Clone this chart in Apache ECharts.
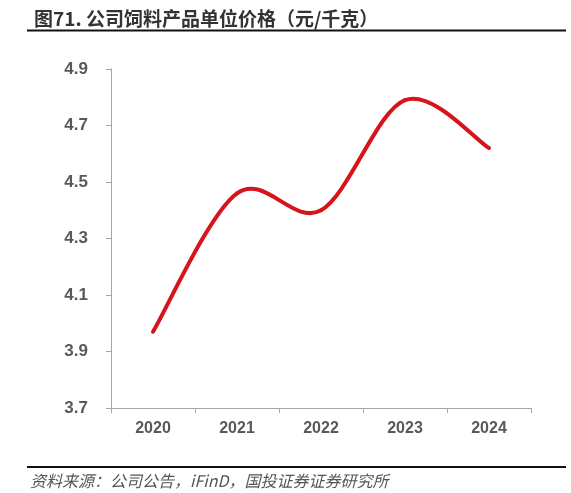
<!DOCTYPE html>
<html>
<head>
<meta charset="utf-8">
<script src="https://cdn.jsdelivr.net/npm/echarts@6/dist/echarts.min.js"></script>
<style>
  html, body { margin: 0; padding: 0; background: #fff; }
  #main { width: 571px; height: 493px; }
</style>
</head>
<body>
<div id="main"></div>
<script>
var years = ['2020', '2021', '2022', '2023', '2024'];
var price = [3.97, 4.46, 4.40, 4.79, 4.62];
var yMin = 3.7, yMax = 4.9, yStep = 0.2;

// smooth curve like the office chart: one bezier per segment, control points from neighbours
function renderSegment(params, api) {
    var i = params.dataIndex;
    var n = price.length;
    if (i >= n - 1) return null;
    var pt = function (k) {
        k = Math.max(0, Math.min(n - 1, k));
        return api.coord([k, price[k]]);
    };
    var p0 = pt(i - 1), p1 = pt(i), p2 = pt(i + 1), p3 = pt(i + 2);
    return {
        type: 'bezierCurve',
        shape: {
            x1: p1[0], y1: p1[1],
            x2: p2[0], y2: p2[1],
            cpx1: p1[0] + (p2[0] - p0[0]) / 6,
            cpy1: p1[1] + (p2[1] - p0[1]) / 6,
            cpx2: p2[0] - (p3[0] - p1[0]) / 6,
            cpy2: p2[1] - (p3[1] - p1[1]) / 6
        },
        style: { stroke: '#d7141c', lineWidth: 4, fill: null, lineCap: 'round' }
    };
}

var chart = echarts.init(document.getElementById('main'));
var option = {
    backgroundColor: '#fff',
    title: {
        text: '图71. 公司饲料产品单位价格（元/千克）',
        left: 29,
        top: 4,
        textStyle: {
            fontFamily: 'Noto Sans CJK SC',
            fontSize: 19,
            fontWeight: 'bold',
            color: '#333'
        }
    },
    graphic: [
        {
            type: 'line',
            shape: { x1: 27, y1: 30.5, x2: 566, y2: 30.5 },
            style: { stroke: '#111', lineWidth: 2 }
        },
        {
            type: 'line',
            shape: { x1: 27, y1: 467, x2: 566, y2: 467 },
            style: { stroke: '#111', lineWidth: 2 }
        },
        {
            type: 'text',
            left: 30,
            top: 473,
            style: {
                text: '资料来源：公司公告，iFinD，国投证券证券研究所',
                font: 'italic 16px "Noto Sans CJK SC"',
                fill: '#555'
            }
        }
    ],
    grid: {
        left: 111,
        right: 40,
        top: 69,
        bottom: 85
    },
    xAxis: {
        type: 'category',
        data: years,
        boundaryGap: true,
        axisLine: { lineStyle: { color: '#a6a6a6', width: 1 } },
        axisTick: { show: true, length: 5, lineStyle: { color: '#a6a6a6' } },
        axisLabel: {
            color: '#595959',
            fontSize: 16,
            fontWeight: 'bold',
            fontFamily: 'Liberation Sans',
            margin: 13
        }
    },
    yAxis: {
        type: 'value',
        min: yMin,
        max: yMax,
        interval: yStep,
        axisLine: { show: true, lineStyle: { color: '#a6a6a6', width: 1 } },
        axisTick: { show: true, length: 5, lineStyle: { color: '#a6a6a6' } },
        splitLine: { show: false },
        axisLabel: {
            color: '#595959',
            fontSize: 17,
            fontWeight: 'bold',
            fontFamily: 'Liberation Sans',
            margin: 23,
            formatter: function (v) { return v.toFixed(1); }
        }
    },
    series: [
        {
            type: 'custom',
            data: price.map(function (v, i) { return [i, v]; }),
            renderItem: renderSegment,
            silent: true
        }
    ]
};
chart.setOption(option);
</script>
</body>
</html>
